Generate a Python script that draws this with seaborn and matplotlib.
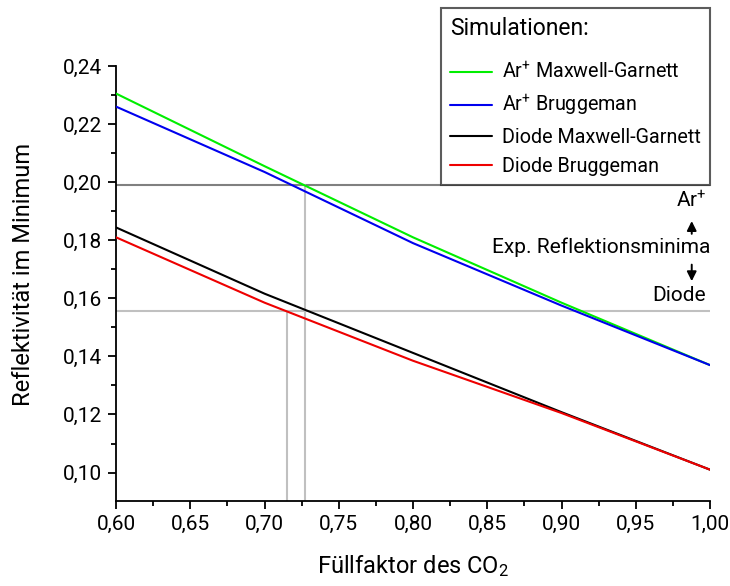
import matplotlib
matplotlib.use("Agg")
import matplotlib.pyplot as plt
import seaborn as sns
import pandas as pd
from matplotlib.lines import Line2D
from matplotlib.ticker import MultipleLocator, FuncFormatter

# ---- data ----
fill_factor = [0.6, 0.7, 0.8, 0.9, 1.0]
ar_mg = [0.2305, 0.2055, 0.1810, 0.1585, 0.1370]
ar_br = [0.2260, 0.2035, 0.1790, 0.1575, 0.1370]
di_mg = [0.1844, 0.1616, 0.1412, 0.1208, 0.1010]
di_br = [0.1810, 0.1585, 0.1385, 0.1205, 0.1010]
series_names = ["Ar$^{+}$ Maxwell-Garnett", "Ar$^{+}$ Bruggeman",
                "Diode Maxwell-Garnett", "Diode Bruggeman"]
series_colors = ["#00ee00", "#0000ee", "#000000", "#ee0000"]
exp_ar = 0.1990
exp_diode = 0.1555
fit_ar = 0.7273
fit_diode = 0.7152

sns.set_style("ticks")
plt.rcParams["font.family"] = ["Roboto", "DejaVu Sans"]
plt.rcParams["mathtext.default"] = "regular"
plt.rcParams["mathtext.fontset"] = "custom"
plt.rcParams["mathtext.rm"] = "Roboto"
plt.rcParams["text.color"] = "black"
plt.rcParams["axes.labelcolor"] = "black"
plt.rcParams["xtick.color"] = "black"
plt.rcParams["ytick.color"] = "black"
plt.rcParams["axes.edgecolor"] = "black"

rows = []
for name, vals in zip(series_names, [ar_mg, ar_br, di_mg, di_br]):
    for x, y in zip(fill_factor, vals):
        rows.append({"x": x, "y": y, "s": name})
df = pd.DataFrame(rows)

ymin = 0.0902
fig = plt.figure(figsize=(7.3, 5.86), dpi=100)
ax = fig.add_axes([0.159, 0.145, 0.9726 - 0.159, 0.8874 - 0.145])

# reference lines
ax.axhline(exp_ar, color="#808080", lw=1.5, zorder=1)
ax.axhline(exp_diode, color="#c0c0c0", lw=1.5, zorder=1)
ax.plot([fit_ar, fit_ar], [ymin, exp_ar], color="#c0c0c0", lw=1.5, zorder=1)
ax.plot([fit_diode, fit_diode], [ymin, exp_diode], color="#c0c0c0", lw=1.5, zorder=1)

sns.lineplot(data=df, x="x", y="y", hue="s", palette=dict(zip(series_names, series_colors)),
             ax=ax, lw=1.5, legend=False, zorder=3)

ax.set_xlim(0.6, 1.0)
ax.set_ylim(ymin, 0.24)
ax.xaxis.set_major_locator(MultipleLocator(0.05))
ax.xaxis.set_minor_locator(MultipleLocator(0.025))
ax.yaxis.set_major_locator(MultipleLocator(0.02))
ax.yaxis.set_minor_locator(MultipleLocator(0.01))
fmt = FuncFormatter(lambda v, p: f"{v:.2f}".replace(".", ","))
ax.xaxis.set_major_formatter(fmt)
ax.yaxis.set_major_formatter(fmt)
ax.tick_params(which="major", length=6, width=1.3, labelsize=15, direction="out", pad=4)
ax.tick_params(which="minor", length=3.3, width=1.3, direction="out")
for s in ["top", "right"]:
    ax.spines[s].set_visible(False)
for s in ["left", "bottom"]:
    ax.spines[s].set_linewidth(1.3)
ax.set_xlabel("Füllfaktor des CO$_2$", fontsize=17, labelpad=14)
ax.set_ylabel("Reflektivität im Minimum", fontsize=17)
ax.yaxis.set_label_coords(-0.136, 0.52)

# annotations
ax.text(0.9975, 0.1937, "Ar$^{+}$", ha="right", va="center", fontsize=15, clip_on=False)
ax.text(1.0, 0.1776, "Exp. Reflektionsminima", ha="right", va="center", fontsize=15, clip_on=False)
ax.text(0.9975, 0.1611, "Diode", ha="right", va="center", fontsize=15, clip_on=False)
ax.annotate("", xy=(0.9877, 0.1866), xytext=(0.9877, 0.1822),
            arrowprops=dict(arrowstyle="-|>", color="black", lw=1.4, mutation_scale=14,
                            shrinkA=0, shrinkB=0))
ax.annotate("", xy=(0.9877, 0.1659), xytext=(0.9877, 0.1716),
            arrowprops=dict(arrowstyle="-|>", color="black", lw=1.4, mutation_scale=14,
                            shrinkA=0, shrinkB=0))

handles = [Line2D([0], [0], color=c, lw=1.5) for c in series_colors]
leg = fig.legend(handles, series_names, title="Simulationen:", loc="upper right",
                 bbox_to_anchor=(0.9726, 0.9863), bbox_transform=fig.transFigure,
                 fontsize=14.2, title_fontsize=16.5, frameon=True, fancybox=False,
                 alignment="left", handlelength=2.15, handletextpad=0.5,
                 borderaxespad=0, labelspacing=0.5, borderpad=0.45)
leg._legend_box.sep = 15
leg.get_frame().set_edgecolor("#333333")
leg.get_frame().set_linewidth(1.5)

fig.savefig("out.png", dpi=100)
